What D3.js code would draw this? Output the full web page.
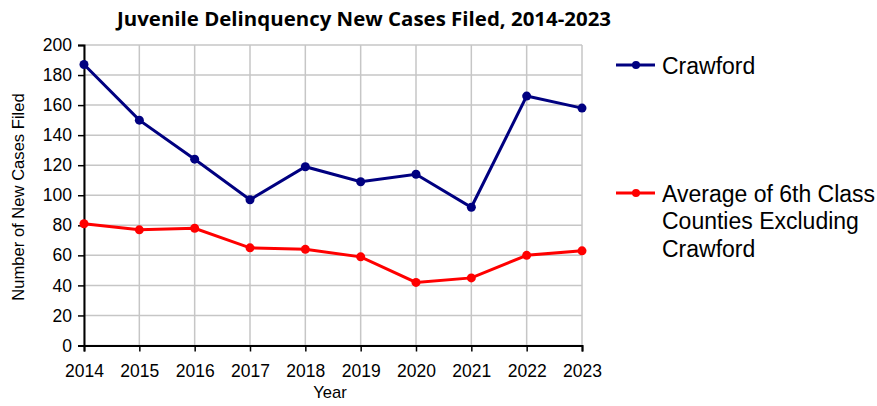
<html>
<script src="https://d3js.org/d3.v7.min.js"></script>
<body style="margin:0">
</body>
<script>
    const years = [2014, 2015, 2016, 2017, 2018, 2019, 2020, 2021, 2022, 2023];
    const crawford = [187, 150, 124, 97, 119, 109, 114, 92, 166, 158];
    const average = [81, 77, 78, 65, 64, 59, 42, 45, 60, 63];
    const yTicks = [0, 20, 40, 60, 80, 100, 120, 140, 160, 180, 200];
    const seriesNames = ["Crawford", "Average of 6th Class Counties Excluding Crawford"];

    let width = 877, height = 406;
    let svg = d3.select("body").append("svg")
        .attr("width", width)
        .attr("height", height)
        .style("font-family", "Arial, 'Liberation Sans', sans-serif");

    let x = d3.scalePoint().domain(years).range([84, 582]);
    let y = d3.scaleLinear().domain([0, 200]).range([345.5, 45]);

    // gridlines
    svg.append("g").selectAll("line").data(yTicks).join("line")
        .attr("x1", 84).attr("x2", 582)
        .attr("y1", d => y(d)).attr("y2", d => y(d))
        .attr("stroke", "#c6c6c6").attr("stroke-width", 1.5);
    svg.append("g").selectAll("line").data(years).join("line")
        .attr("x1", d => x(d)).attr("x2", d => x(d))
        .attr("y1", y(0)).attr("y2", y(200))
        .attr("stroke", "#c6c6c6").attr("stroke-width", 1.5);

    // axes
    let yAxis = svg.append("g")
        .attr("transform", "translate(84,0)")
        .call(d3.axisLeft(y).tickValues(yTicks).tickSize(6).tickPadding(6));
    let xAxis = svg.append("g")
        .attr("transform", "translate(0," + y(0) + ")")
        .call(d3.axisBottom(x).tickSize(6).tickPadding(13));
    [yAxis, xAxis].forEach(a => {
        a.attr("font-size", null).attr("font-family", null);
        a.select(".domain").attr("stroke", "#000").attr("stroke-width", 2);
        a.selectAll(".tick line").attr("stroke", "#000").attr("stroke-width", 1.5);
        a.selectAll("text").attr("font-size", 17.5).attr("fill", "#000");
    });

    // title
    svg.append("text")
        .attr("x", 364).attr("y", 26)
        .attr("text-anchor", "middle")
        .attr("font-size", 19).attr("font-weight", "bold")
        .attr("textLength", 494).attr("lengthAdjust", "spacingAndGlyphs")
        .style("font-family", "'Open Sans', sans-serif")
        .text("Juvenile Delinquency New Cases Filed, 2014-2023");

    // axis titles
    svg.append("text")
        .attr("transform", "translate(24,197) rotate(-90)")
        .attr("text-anchor", "middle")
        .attr("font-size", 16.6)
        .text("Number of New Cases Filed");
    svg.append("text")
        .attr("x", 330).attr("y", 398)
        .attr("text-anchor", "middle")
        .attr("font-size", 16.6)
        .text("Year");

    let line = d3.line()
        .x((d, i) => x(years[i]))
        .y(d => y(d));
    let colors = ["#000080", "#ff0000"];
    let allSeries = [crawford, average];

    allSeries.forEach((s, k) => {
        svg.append("path")
            .datum(s)
            .attr("d", line)
            .attr("fill", "none")
            .attr("stroke", colors[k])
            .attr("stroke-width", 3);
        svg.append("g").selectAll("circle").data(s).join("circle")
            .attr("cx", (d, i) => x(years[i]))
            .attr("cy", d => y(d))
            .attr("r", 4.5)
            .attr("fill", colors[k]);
    });

    // legend
    let legendY = [65, 193];
    let legendLines = [["Crawford"], ["Average of 6th Class", "Counties Excluding", "Crawford"]];
    legendY.forEach((ly, k) => {
        svg.append("line")
            .attr("x1", 616).attr("x2", 655)
            .attr("y1", ly).attr("y2", ly)
            .attr("stroke", colors[k]).attr("stroke-width", 3);
        svg.append("circle")
            .attr("cx", 636).attr("cy", ly).attr("r", 4)
            .attr("fill", colors[k]);
        legendLines[k].forEach((t, j) => {
            svg.append("text")
                .attr("x", 662).attr("y", ly + 8.5 + j * 27.8)
                .attr("font-size", 23)
                .text(t);
        });
    });
</script>
</html>
